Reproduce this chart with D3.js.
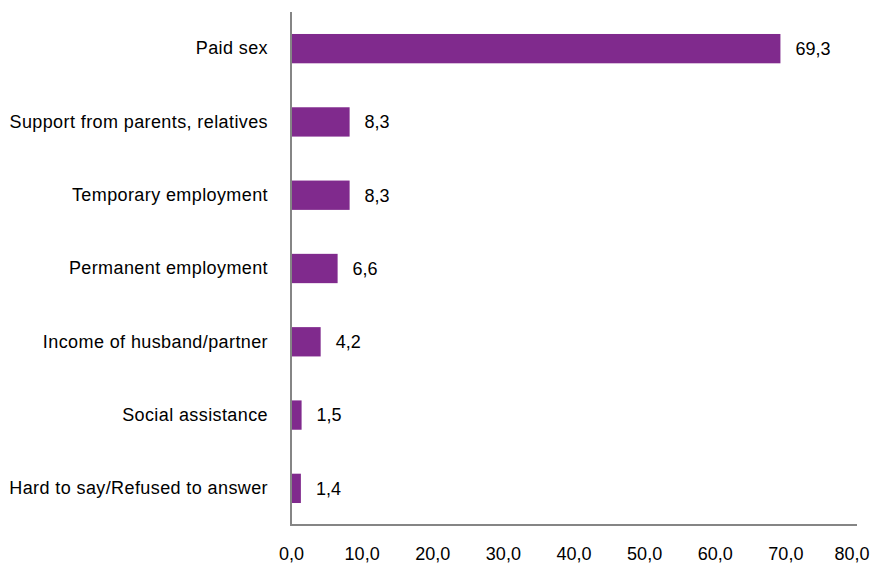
<!DOCTYPE html>
<html>
<head>
<meta charset="utf-8">
<script src="https://cdn.jsdelivr.net/npm/d3@7"></script>
<style>
  body { margin: 0; background: #fff; }
  svg { display: block; font-family: "Liberation Sans", Arial, Helvetica, sans-serif; }
</style>
</head>
<body>
<div id="chart"></div>
<script>
// Sources of income (%)
const categories = [
  "Paid sex",
  "Support from parents, relatives",
  "Temporary employment",
  "Permanent employment",
  "Income of husband/partner",
  "Social assistance",
  "Hard to say/Refused to answer"
];
const values = [69.3, 8.3, 8.3, 6.6, 4.2, 1.5, 1.4];
const xTicks = [0, 10, 20, 30, 40, 50, 60, 70, 80];

const width = 871, height = 574;
const margin = { top: 12, right: 15, bottom: 49, left: 291 };
const fontSize = 18;

const fmt = v => d3.format(".1f")(v).replace(".", ",");

const svg = d3.select("#chart").append("svg")
  .attr("width", width).attr("height", height);

const x = d3.scaleLinear().domain([0, 80]).range([margin.left, width - margin.right]);
const y = d3.scaleBand().domain(categories)
  .range([margin.top, height - margin.bottom])
  .paddingInner(0.6).paddingOuter(0.3);

// bars
svg.append("g").selectAll("rect")
  .data(categories)
  .join("rect")
  .attr("x", x(0))
  .attr("y", d => y(d))
  .attr("width", (d, i) => x(values[i]) - x(0))
  .attr("height", y.bandwidth())
  .attr("fill", "#802a8d");

// value labels
svg.append("g").selectAll("text")
  .data(categories)
  .join("text")
  .attr("x", (d, i) => x(values[i]) + 15)
  .attr("y", d => y(d) + y.bandwidth() / 2)
  .attr("dy", "0.35em")
  .attr("font-size", fontSize)
  .attr("fill", "#000")
  .text((d, i) => fmt(values[i]));

// category labels
const yAxis = svg.append("g")
  .attr("transform", `translate(${margin.left},0)`)
  .call(d3.axisLeft(y).tickSize(0).tickPadding(23));
yAxis.select(".domain").remove();
yAxis.selectAll("text")
  .attr("font-size", fontSize)
  .attr("letter-spacing", "0.4px")
  .attr("font-family", "\"Liberation Sans\", Arial, sans-serif")
  .attr("fill", "#000");

// x tick labels
const xAxis = svg.append("g")
  .attr("transform", `translate(0,${height - margin.bottom})`)
  .call(d3.axisBottom(x).tickValues(xTicks).tickFormat(fmt).tickSize(0).tickPadding(22));
xAxis.select(".domain").remove();
xAxis.selectAll("text")
  .attr("font-size", fontSize)
  .attr("font-family", "\"Liberation Sans\", Arial, sans-serif")
  .attr("fill", "#000");
// keep the last label inside the frame
xAxis.selectAll(".tick:last-of-type text").attr("text-anchor", "end").attr("x", 13);

// axis lines
svg.append("line")
  .attr("x1", x(0)).attr("x2", x(0))
  .attr("y1", margin.top).attr("y2", height - margin.bottom)
  .attr("stroke", "#858585").attr("stroke-width", 2);
svg.append("line")
  .attr("x1", x(0) - 1).attr("x2", x(80) + 1)
  .attr("y1", height - margin.bottom).attr("y2", height - margin.bottom)
  .attr("stroke", "#858585").attr("stroke-width", 2);
</script>
</body>
</html>
